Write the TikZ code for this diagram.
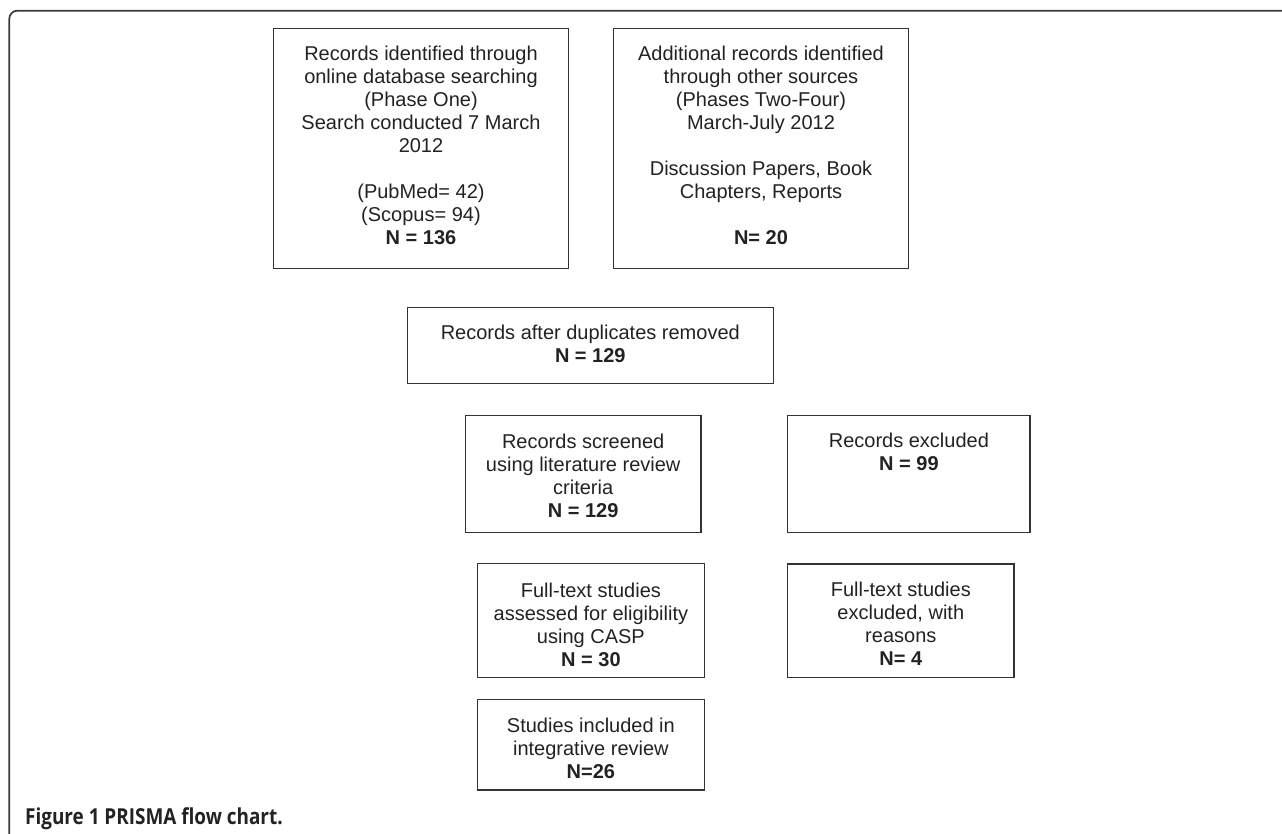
\documentclass[tikz,border=0pt]{standalone}
\usepackage{fontspec}
\setmainfont{Liberation Sans}
\newfontfamily\capfont[FakeStretch=0.86]{Open Sans}
\definecolor{textgray}{HTML}{222222}
\definecolor{boxgray}{HTML}{333333}
\definecolor{framegray}{HTML}{3A3A3A}
\begin{document}
\begin{tikzpicture}[x=1pt,y=-1pt,
  box/.style={draw=boxgray, line width=1.3pt, inner sep=0pt},
  txt/.style={align=center, font=\fontsize{20}{23}\selectfont, text=textgray, inner sep=0pt},
  framestyle/.style={draw=framegray, line width=1.7pt, rounded corners=8pt}]
\useasboundingbox (0,0) rectangle (1282,834);
\draw[framestyle] (9.3,836) -- (9.3,10.7) -- (1284,10.7);
% boxes
\node[box, minimum width=294.6pt, minimum height=240pt] (b1) at (421,148.3) {};
\node[box, minimum width=294.6pt, minimum height=240pt] (b2) at (761,148.3) {};
\node[box, minimum width=366pt, minimum height=76pt] (b3) at (590.3,345.3) {};
\node[box, minimum width=235.7pt, minimum height=117pt] (b4) at (583.2,474.2) {};
\node[box, minimum width=242.3pt, minimum height=116.6pt] (b5) at (908.9,474) {};
\node[box, minimum width=226.8pt, minimum height=113.6pt] (b6) at (590.9,620.5) {};
\node[box, minimum width=226.3pt, minimum height=113.3pt] (b7) at (900.8,620.7) {};
\node[box, minimum width=226.8pt, minimum height=90.7pt] (b8) at (590.9,744.7) {};
% texts
\node[txt] (t1) at (421,148.1) {\strut Records identified through\\online database searching\\(Phase One)\\Search conducted 7 March\\2012\\[23pt](PubMed= 42)\\(Scopus= 94)\\\textbf{N = 136}\strut};
\node[txt] (t2) at (761,148.1) {\strut Additional records identified\\through other sources\\(Phases Two-Four)\\March-July 2012\\[23pt]Discussion Papers, Book\\Chapters, Reports\\[23pt]\textbf{N= 20}\strut};
\node[txt] (t3) at (590.3,346.6) {\strut Records after duplicates removed\\\textbf{N = 129}\strut};
\node[txt] (t4) at (583.2,478.6) {\strut Records screened\\using literature review\\criteria\\\textbf{N = 129}\strut};
\node[txt] (t5) at (908.9,454.6) {\strut Records excluded\\\textbf{N = 99}\strut};
\node[txt] (t6) at (590.9,627.1) {\strut Full-text studies\\assessed for eligibility\\using CASP\\\textbf{N = 30}\strut};
\node[txt] (t7) at (900.8,626.6) {\strut Full-text studies\\excluded, with\\reasons\\\textbf{N= 4}\strut};
\node[txt] (t8) at (590.9,750.6) {\strut Studies included in\\integrative review\\\textbf{N=26}\strut};
% caption
\node[anchor=base west, inner sep=0pt, text=textgray, font=\capfont\bfseries\fontsize{22}{26}\selectfont] (cap) at (25,824.3) {Figure 1 PRISMA flow chart.};
\end{tikzpicture}
\end{document}
